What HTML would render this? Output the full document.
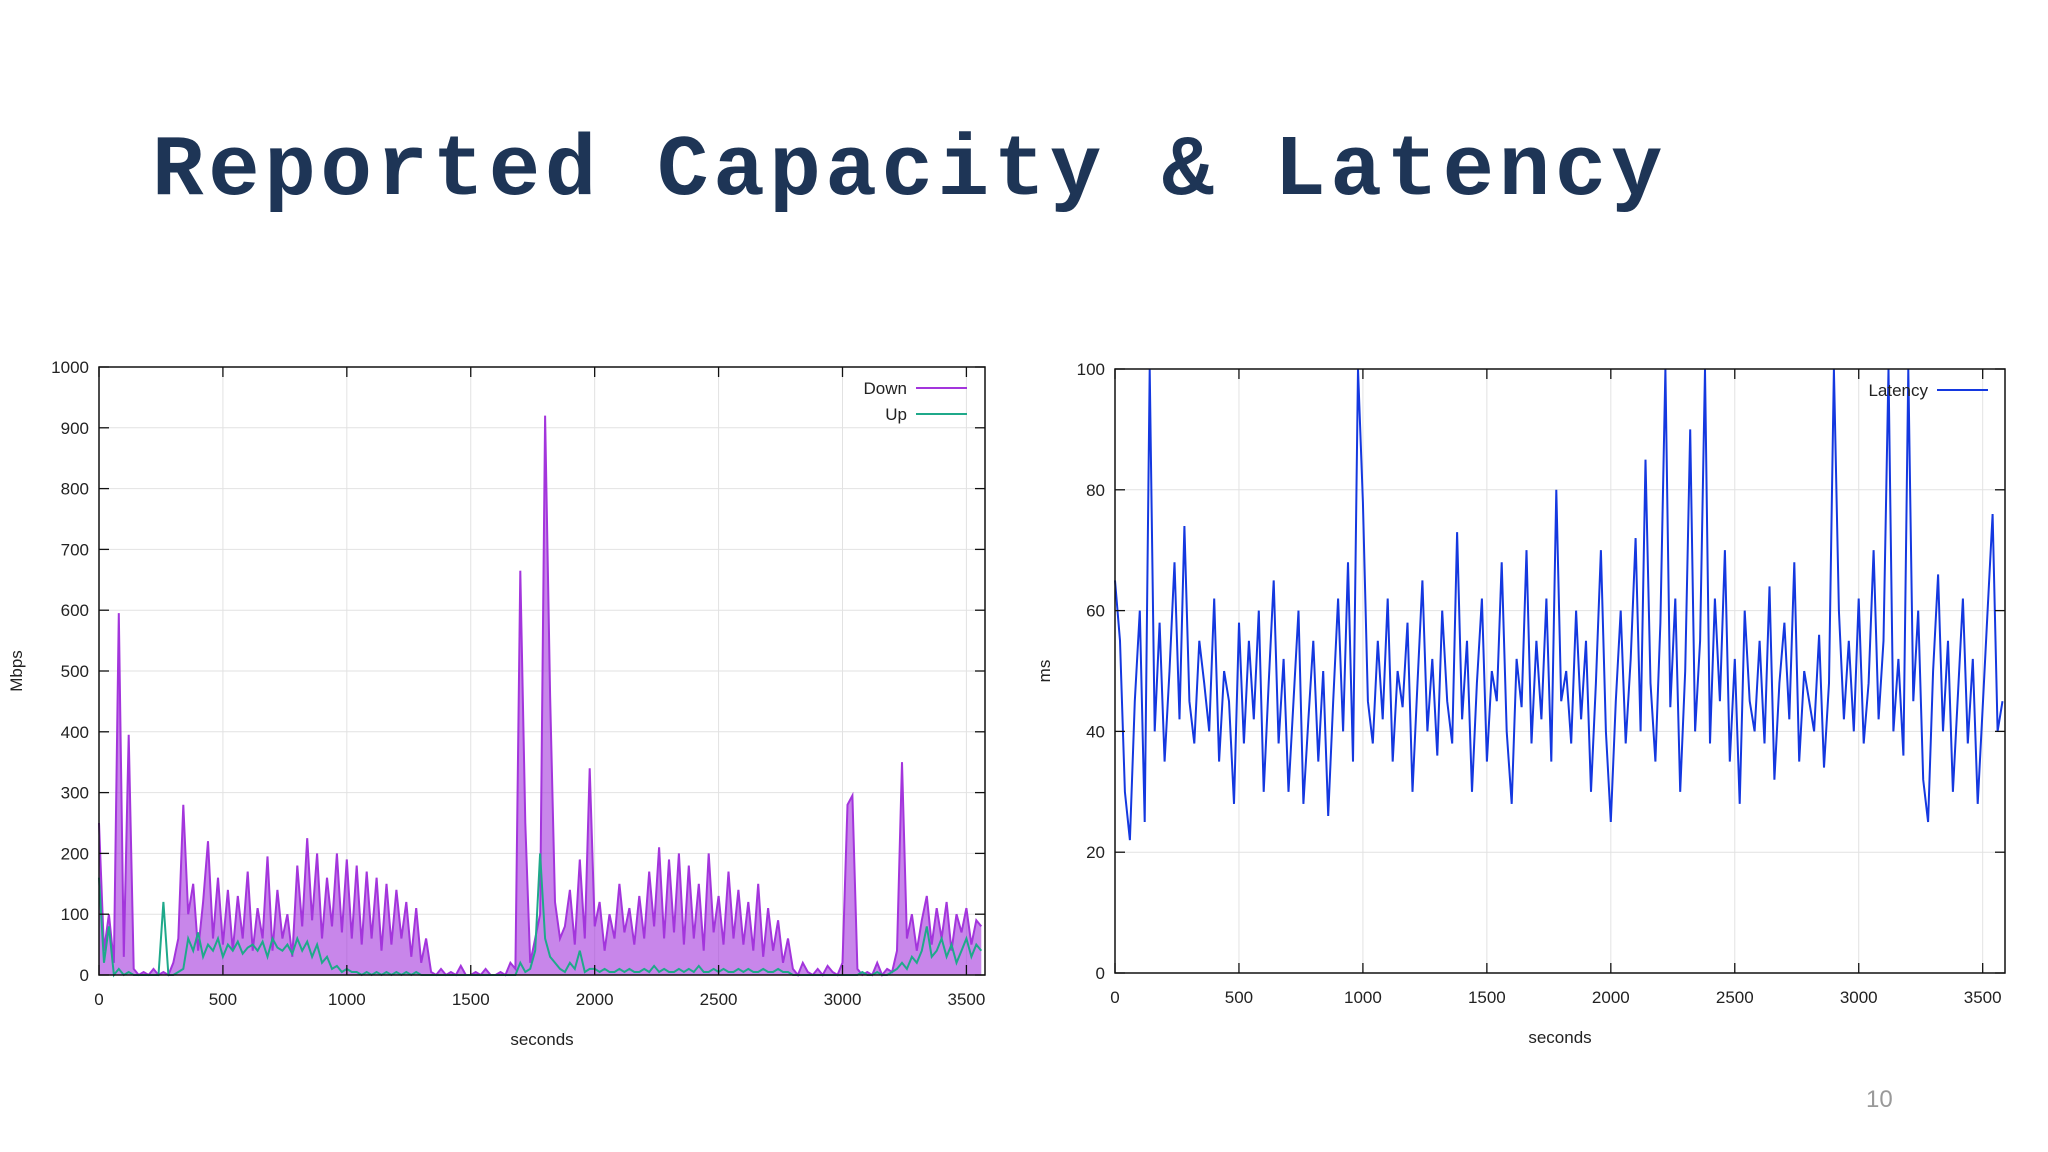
<!DOCTYPE html>
<html><head><meta charset="utf-8">
<style>
html,body{margin:0;padding:0;background:#fff;}
body{width:2048px;height:1152px;position:relative;overflow:hidden;font-family:"Liberation Sans",sans-serif;}
#title{position:absolute;left:152px;top:122px;font-family:"Liberation Mono",monospace;font-weight:bold;font-size:86px;color:#1e3556;letter-spacing:4.5px;white-space:nowrap;}
#pagenum{position:absolute;left:1866px;top:1086px;font-size:24px;color:#999;}
svg text{font-family:"Liberation Sans",sans-serif;fill:#222;}
</style></head>
<body>
<div id="title">Reported Capacity &amp; Latency</div>
<div id="pagenum">10</div>
<svg id="chart" width="2048" height="1152" style="position:absolute;left:0;top:0"></svg>
<script>
const xTicks=[0,500,1000,1500,2000,2500,3000,3500];
const capYTicks=[0,100,200,300,400,500,600,700,800,900,1000];
const latYTicks=[0,20,40,60,80,100];
const stepSec=20;
const downVals=[250,40,100,20,595,30,395,10,0,5,0,10,0,5,0,20,60,280,
100,150,40,120,220,60,160,50,140,40,130,60,170,40,110,60,195,40,140,60,100,30,180,80,225,90,200,60,160,80,200,70,190,60,180,50,170,60,160,40,150,50,140,60,120,30,110,20,60,5,
0,10,0,5,0,15,0,0,5,0,10,0,0,5,0,20,10,
665,250,20,60,100,920,460,120,60,80,140,50,190,60,340,
80,120,40,100,60,150,70,110,50,130,60,170,80,210,60,190,70,200,50,180,60,150,40,200,70,130,50,170,60,140,50,120,40,150,30,110,40,90,20,60,
10,0,20,5,0,10,0,15,5,0,20,280,
295,10,0,5,0,20,0,10,5,40,
350,60,100,40,90,130,50,110,60,120,40,100,70,110,50,90,80];
const upVals=[160,20,80,0,10,0,5,0,0,0,0,0,0,120,0,0,5,10,
60,40,70,30,50,40,60,30,50,40,55,35,45,50,40,55,30,60,45,40,50,35,60,40,55,30,50,20,30,10,15,5,10,5,5,0,5,0,5,0,5,0,5,0,5,0,5,0,0,0,
0,0,0,0,0,0,0,0,0,0,0,0,0,0,0,0,0,
20,5,10,40,200,60,30,20,10,5,20,10,40,5,10,
10,5,10,5,5,10,5,10,5,5,10,5,15,5,10,5,5,10,5,10,5,15,5,5,10,5,10,5,5,10,5,10,5,5,10,5,5,10,5,5,
0,0,0,0,0,0,0,0,0,0,0,0,
0,0,5,0,0,5,0,0,5,10,
20,10,30,20,40,80,30,40,60,30,50,20,40,60,30,50,40];
const latVals=[65,55,30,22,45,60,25,100,40,58,35,50,68,42,74,45,38,55,
48,40,62,35,50,45,28,58,38,55,42,60,30,48,65,38,52,30,45,60,28,42,55,35,50,26,45,62,40,68,35,100,78,
45,38,55,42,62,35,50,44,58,30,48,65,40,52,36,60,45,38,73,42,55,30,48,62,35,50,45,68,40,28,52,44,70,38,55,42,62,35,80,45,50,38,60,42,55,30,48,70,40,
25,45,60,38,52,72,40,85,48,35,58,100,44,62,30,50,90,40,55,100,38,62,45,70,35,52,28,60,45,40,55,38,64,32,48,58,42,68,35,50,45,40,56,34,48,100,60,42,55,40,
62,38,48,70,42,55,100,40,52,36,100,45,60,32,25,50,66,40,55,30,46,62,38,52,28,44,60,76,40,45];

const NS="http://www.w3.org/2000/svg";
const svg=document.getElementById('chart');
function mk(tag,attrs,parent){const e=document.createElementNS(NS,tag);for(const k in attrs)e.setAttribute(k,attrs[k]);(parent||svg).appendChild(e);return e;}

function drawChart(cfg){
  const g=mk('g',{});
  
  
  const {x0,x1,y0,y1,xMax,yMax}=cfg;
  const sx=v=>x0+(v/xMax)*(x1-x0);
  const sy=v=>y1-(Math.min(v,yMax)/yMax)*(y1-y0);
  xTicks.forEach(t=>{if(t>0){const l=mk('line',{x1:sx(t),x2:sx(t),y1:y0,y2:y1,stroke:'#e2e2e2','stroke-width':1},g);
    }});
  cfg.yTicks.forEach(t=>{if(t>0&&t<yMax){const l=mk('line',{x1:x0,x2:x1,y1:sy(t),y2:sy(t),stroke:'#e2e2e2','stroke-width':1},g);
    }});
  cfg.series.forEach(s=>{
    const pts=s.vals.map((v,i)=>sx(i*stepSec).toFixed(1)+','+sy(v).toFixed(1));
    if(s.fill){
      const last=sx((s.vals.length-1)*stepSec).toFixed(1);
      const poly=mk('polygon',{points:x0+','+y1+' '+pts.join(' ')+' '+last+','+y1,fill:s.color,'fill-opacity':s.fill,stroke:'none'},g);
      
      
    }
    const p=mk('polyline',{points:pts.join(' '),fill:'none',stroke:s.color,'stroke-width':s.w,'stroke-linejoin':'miter'},g);
    
    
  });
  const r=mk('rect',{x:x0,y:y0,width:x1-x0,height:y1-y0,fill:'none',stroke:'#111','stroke-width':1.5},g);
  
  xTicks.forEach(t=>{
    mk('line',{x1:sx(t),x2:sx(t),y1:y1,y2:y1-10,stroke:'#111','stroke-width':1.3},g);
    mk('line',{x1:sx(t),x2:sx(t),y1:y0,y2:y0+10,stroke:'#111','stroke-width':1.3},g);
    const tx=mk('text',{x:sx(t),y:y1+30,'text-anchor':'middle','font-size':17},g);
    tx.textContent=t;
    
  });
  cfg.yTicks.forEach(t=>{
    mk('line',{x1:x0,x2:x0+10,y1:sy(t),y2:sy(t),stroke:'#111','stroke-width':1.3},g);
    mk('line',{x1:x1,x2:x1-10,y1:sy(t),y2:sy(t),stroke:'#111','stroke-width':1.3},g);
    const tx=mk('text',{x:x0-10,y:sy(t)+6,'text-anchor':'end','font-size':17},g);
    tx.textContent=t;
    
  });
  const xl=mk('text',{x:(x0+x1)/2,y:y1+70,'text-anchor':'middle','font-size':17},g);
  xl.textContent='seconds';
  
  const yl=mk('text',{x:cfg.yLabelX,y:(y0+y1)/2,'text-anchor':'middle','font-size':17,transform:`rotate(-90 ${cfg.yLabelX} ${(y0+y1)/2})`},g);
  yl.textContent=cfg.yLabel;
  
  cfg.series.forEach((s,i)=>{
    const ly=cfg.legY+i*26;
    const t=mk('text',{x:cfg.legX,y:ly+6,'text-anchor':'end','font-size':17},g);
    t.textContent=s.label;
    
    mk('line',{x1:cfg.legX+9,x2:cfg.legX+60,y1:ly,y2:ly,stroke:s.color,'stroke-width':2},g);
  });
}
drawChart({name:'capacity-chart',x0:99,x1:985,y0:367,y1:975,xMax:3575,yMax:1000,yTicks:capYTicks,
  yLabel:'Mbps',yLabelX:22,legX:907,legY:388,
  series:[{name:'down-line',label:'Down',color:'#a335dc',vals:downVals,w:2,fill:0.6},{name:'up-line',label:'Up',color:'#1fa98a',vals:upVals,w:2}]});
drawChart({name:'latency-chart',x0:1115,x1:2005,y0:369,y1:973,xMax:3590,yMax:100,yTicks:latYTicks,
  yLabel:'ms',yLabelX:1050,legX:1928,legY:390,
  series:[{name:'latency-line',label:'Latency',color:'#1438e0',vals:latVals,w:2}]});
</script>
</body></html>
